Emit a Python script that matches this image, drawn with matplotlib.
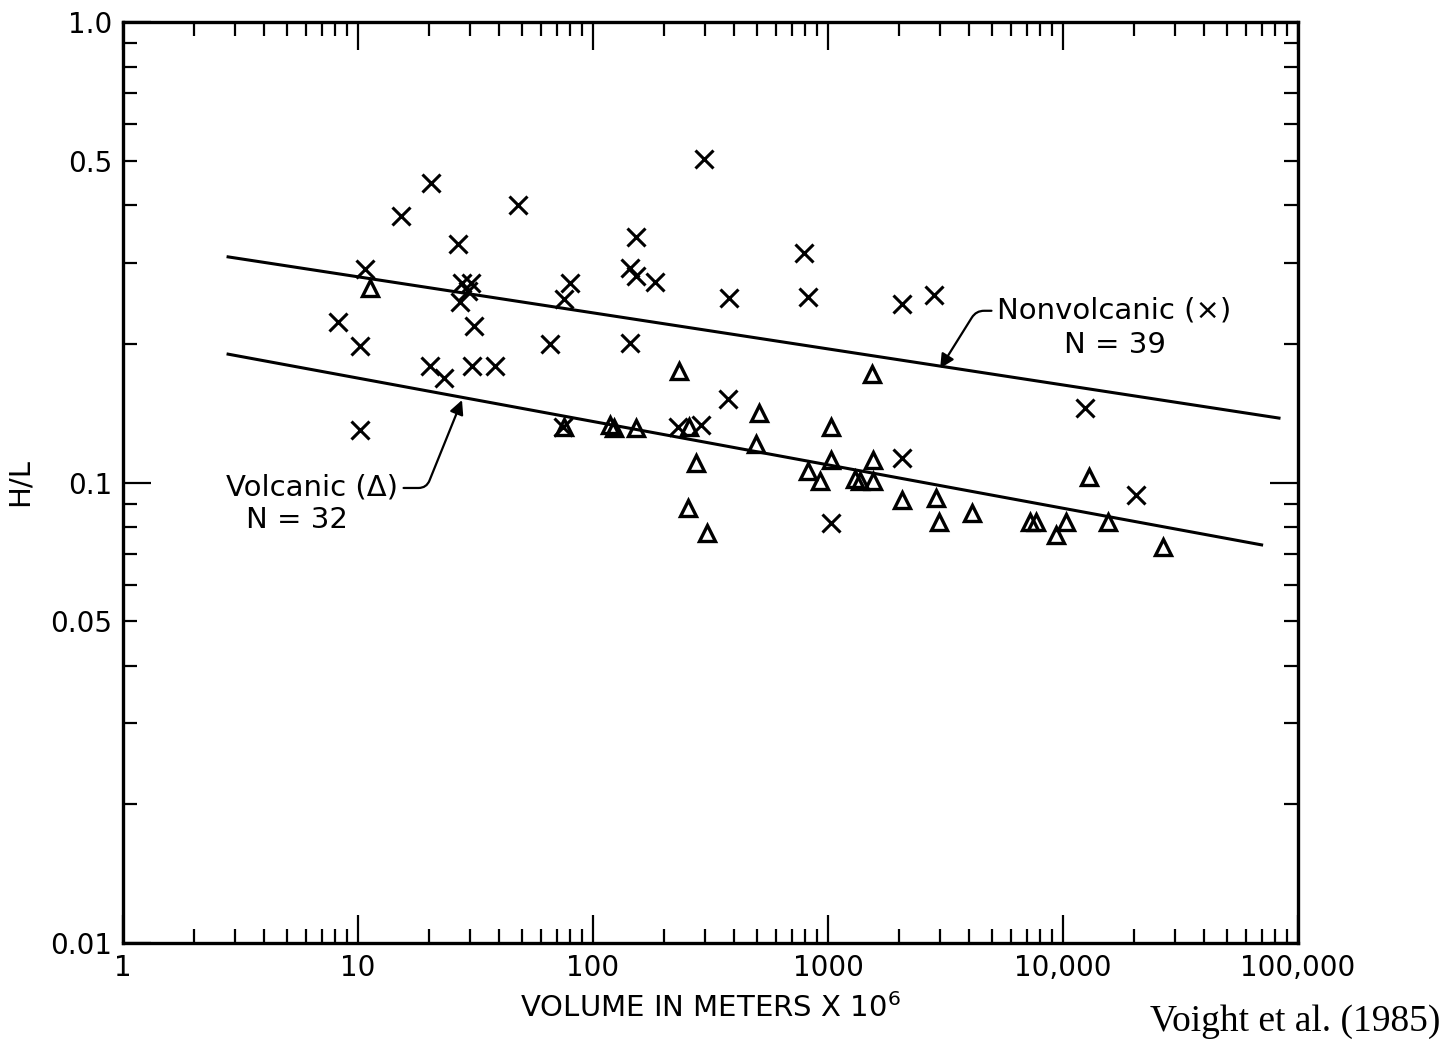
import matplotlib.pyplot as plt
from matplotlib.ticker import FixedLocator, FixedFormatter, NullFormatter

# nonvolcanic landslides (x markers)
nonvolc_vol = [20.4, 15.3, 47.8, 26.6, 10.7, 27.7, 30.3, 29.4, 27.2, 31.2,
               8.25, 10.2, 20.2, 23.3, 30.5, 38.3, 65.6, 79.8, 75.5, 10.2,
               74.8, 298, 153, 143, 153, 184, 379, 791, 143, 377,
               231, 288, 825, 2060, 2830, 2060, 1030, 12400, 20500]
nonvolc_hl = [0.446, 0.380, 0.400, 0.330, 0.291, 0.271, 0.271, 0.261, 0.247, 0.219,
              0.223, 0.198, 0.179, 0.169, 0.179, 0.179, 0.200, 0.271, 0.250, 0.130,
              0.132, 0.503, 0.342, 0.293, 0.281, 0.272, 0.252, 0.315, 0.201, 0.152,
              0.132, 0.133, 0.253, 0.244, 0.256, 0.113, 0.0818, 0.145, 0.0939]

# volcanic landslides (triangles)
volc_vol = [11.2, 74.9, 118, 123, 152, 256, 233, 510, 494, 274,
            254, 305, 1545, 1030, 1030, 825, 925, 1300, 1370, 1555,
            1555, 2060, 2870, 2980, 4090, 12900, 7240, 7670, 10300, 9310,
            15500, 26700]
volc_hl = [0.264, 0.132, 0.133, 0.131, 0.131, 0.132, 0.175, 0.1416, 0.121, 0.110,
           0.0879, 0.0778, 0.172, 0.132, 0.112, 0.106, 0.101, 0.1018, 0.101, 0.1117,
           0.101, 0.0916, 0.0924, 0.0821, 0.0860, 0.1029, 0.0822, 0.0822, 0.0822, 0.0769,
           0.0822, 0.0725]

# fitted lines (end points)
nonvolc_fit_x = [2.8, 83000]
nonvolc_fit_y = [0.309, 0.138]
volc_fit_x = [2.8, 70000]
volc_fit_y = [0.190, 0.0732]

x_ticks = [1, 10, 100, 1000, 10000, 100000]
x_labels = ['1', '10', '100', '1000', '10,000', '100,000']

fig = plt.figure(figsize=(14.48, 10.47), dpi=100)
ax = fig.add_axes([123 / 1448, 1 - 943 / 1047, (1298 - 123) / 1448, (943 - 22) / 1047])
ax.set_xscale('log')
ax.set_yscale('log')
ax.set_xlim(1, 1e5)
ax.set_ylim(0.01, 1.0)

ax.plot(nonvolc_fit_x, nonvolc_fit_y, color='black', lw=2.2)
ax.plot(volc_fit_x, volc_fit_y, color='black', lw=2.2)
ax.plot(nonvolc_vol, nonvolc_hl, 'x', color='black', ms=13, mew=2.2)
ax.plot(volc_vol, volc_hl, '^', mfc='none', mec='black', ms=12, mew=2.4)

# ticks
ax.xaxis.set_major_locator(FixedLocator(x_ticks))
ax.xaxis.set_major_formatter(FixedFormatter(x_labels))
xminor = [m * 10 ** e for e in range(0, 5) for m in range(2, 10)]
ax.xaxis.set_minor_locator(FixedLocator(xminor))
ax.xaxis.set_minor_formatter(NullFormatter())

ax.yaxis.set_major_locator(FixedLocator([0.01, 0.1, 1.0]))
ax.yaxis.set_major_formatter(FixedFormatter(['0.01', '0.1', '1.0']))
yminor = [m * 10 ** e for e in (-2, -1) for m in range(2, 10)]
ax.yaxis.set_minor_locator(FixedLocator(yminor))
ax.yaxis.set_minor_formatter(FixedFormatter(['0.05' if abs(v - 0.05) < 1e-9 else
                                             '0.5' if abs(v - 0.5) < 1e-9 else ''
                                             for v in yminor]))

ax.tick_params(which='both', direction='in', top=True, right=True,
               labelsize=20, width=1.6, pad=8)
ax.tick_params(which='major', length=20)
ax.tick_params(which='minor', length=10)
for s in ax.spines.values():
    s.set_linewidth(2.4)

ax.set_xlabel('VOLUME IN METERS X 10$^6$', fontsize=21, labelpad=8)
ax.set_ylabel('H/L', fontsize=21, labelpad=12)

# labels with leader arrows
ax.annotate('Nonvolcanic (×)', xy=(3000, 0.177), xytext=(5240, 0.236),
            ha='left', va='center', fontsize=21,
            arrowprops=dict(arrowstyle='-|>', color='black', lw=1.6,
                            relpos=(0, 0.5), shrinkA=2, shrinkB=0,
                            connectionstyle='angle,angleA=0,angleB=58,rad=8'))
ax.text(16600, 0.199, 'N = 39', ha='center', va='center', fontsize=21)

ax.annotate('Volcanic (Δ)', xy=(27.7, 0.151), xytext=(14.8, 0.0973),
            ha='right', va='center', fontsize=21,
            arrowprops=dict(arrowstyle='-|>', color='black', lw=1.6,
                            relpos=(1, 0.5), shrinkA=2, shrinkB=0,
                            connectionstyle='angle,angleA=0,angleB=-112,rad=8'))
ax.text(5.5, 0.083, 'N = 32', ha='center', va='center', fontsize=21)

fig.text(1440 / 1448, 1 - 1022 / 1047, 'Voight et al. (1985)', ha='right', va='center',
         fontsize=27, family='Liberation Serif')

fig.savefig('out.png', dpi=100)
